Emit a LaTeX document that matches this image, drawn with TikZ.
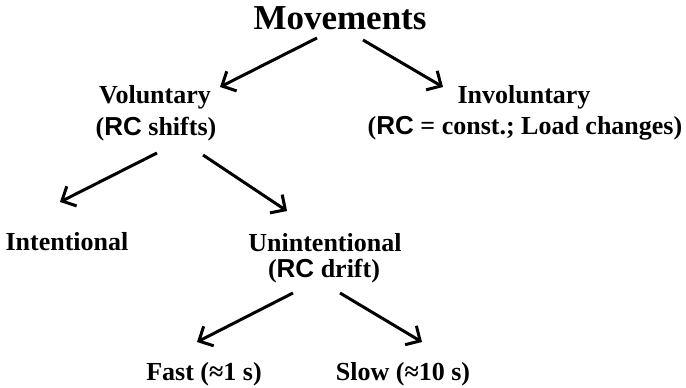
\documentclass[tikz,border=0pt]{standalone}
\usepackage{fontspec}
\setmainfont{Liberation Serif}
\newfontfamily\rcfont{Liberation Sans}
\usetikzlibrary{arrows.meta}
\newcommand{\RCx}{{\rcfont\bfseries RC}}
\begin{document}
\begin{tikzpicture}[x=1pt,y=-1pt,
  lbl/.style={inner sep=0pt, anchor=base, font=\fontsize{26}{28}\selectfont\bfseries},
  ttl/.style={inner sep=0pt, anchor=base, font=\fontsize{35}{38}\selectfont\bfseries},
  arr/.style={line width=3pt, -{Straight Barb[length=11pt,width=22pt]}}]
\useasboundingbox (0,0) rectangle (686,388);
% texts
\node[ttl] (mov) at (340,29) {Movements};
\node[lbl] (vol) at (155,103) {Voluntary};
\node[lbl] (volsub) at (156,135) {(\RCx{} shifts)};
\node[lbl] (inv) at (524,103) {Involuntary};
\node[lbl] (invsub) at (525,134) {(\RCx{} = const.; Load changes)};
\node[lbl] (int) at (67,250) {Intentional};
\node[lbl] (unint) at (325,251) {Unintentional};
\node[lbl] (unintsub) at (324,277) {(\RCx{} drift)};
\node[lbl] (fast) at (204,380) {Fast (≈1 s)};
\node[lbl] (slow) at (403,380) {Slow (≈10 s)};
% connector ends
\coordinate (m1) at (317,38);  \coordinate (v1) at (220,87);
\coordinate (m2) at (363,40);  \coordinate (i1) at (443,87);
\coordinate (vs1) at (157,153); \coordinate (t1) at (60,202);
\coordinate (vs2) at (203,155); \coordinate (u1) at (287,211);
\coordinate (us1) at (293,293); \coordinate (f1) at (197,342);
\coordinate (us2) at (340,293); \coordinate (s1) at (422,342);
% connectors
\draw[arr] (m1) -- (v1);
\draw[arr] (m2) -- (i1);
\draw[arr] (vs1) -- (t1);
\draw[arr] (vs2) -- (u1);
\draw[arr] (us1) -- (f1);
\draw[arr] (us2) -- (s1);
\end{tikzpicture}
\end{document}
